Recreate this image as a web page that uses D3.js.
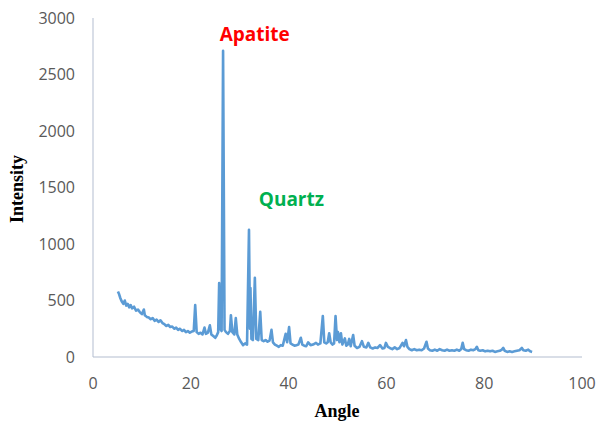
<!DOCTYPE html>
<html>
<head>
<meta charset="utf-8">
<script src="https://cdn.jsdelivr.net/npm/d3@7"></script>
<style>
  body { margin: 0; background: #fff; }
</style>
</head>
<body>
<script>
// XRD scan: angle (2-theta) and intensity
var angle = [5.1,5.3,5.6,5.9,6.2,6.5,6.8,7.1,7.4,7.7,8.0,8.4,8.8,9.2,9.6,10.0,10.4,10.6,11.0,11.4,
  11.8,12.2,12.6,13.0,13.4,13.8,14.2,14.6,15.0,15.4,15.8,16.2,16.6,17.0,17.4,17.8,18.2,18.6,19.0,19.4,
  19.8,20.2,20.6,20.9,21.2,21.6,22.0,22.4,22.8,23.1,23.5,23.9,24.2,24.6,25.0,25.3,25.6,25.8,26.0,26.3,
  26.6,26.9,27.2,27.6,28.0,28.2,28.5,28.9,29.2,29.5,29.9,30.3,30.7,31.1,31.5,31.9,32.1,32.2,32.4,32.7,
  33.1,33.4,33.8,34.2,34.5,34.9,35.3,35.7,36.1,36.5,36.8,37.2,37.6,38.0,38.4,38.8,39.4,39.7,40.1,40.4,
  40.8,41.2,41.6,42.0,42.5,42.8,43.2,43.6,44.0,44.5,45.0,45.6,46.0,46.5,47.0,47.3,47.7,48.0,48.3,48.6,
  49.0,49.3,49.6,49.9,50.1,50.4,50.7,51.0,51.5,51.8,52.1,52.4,52.7,53.2,53.5,54.0,54.5,55.0,55.4,55.9,
  56.3,56.7,57.2,57.7,58.2,58.7,59.2,59.6,59.9,60.3,60.7,61.2,61.7,62.2,62.7,63.3,63.6,64.0,64.3,64.7,
  65.2,65.7,66.2,66.7,67.2,67.7,68.2,68.5,68.9,69.4,69.9,70.4,70.9,71.4,71.9,72.4,72.9,73.4,73.9,74.4,
  74.9,75.3,75.6,75.9,76.3,76.8,77.3,77.8,78.2,78.5,78.8,79.2,79.7,80.2,80.7,81.2,81.7,82.2,82.7,83.2,
  83.6,83.9,84.2,84.7,85.2,85.7,86.2,86.7,87.2,87.7,88.0,88.5,89.0,89.4,89.8];
var intensity = [580,560,520,490,470,500,455,470,440,460,430,445,410,420,395,380,420,370,355,350,
  335,345,320,330,310,325,300,290,275,285,265,270,250,260,240,250,230,240,220,230,
  215,225,230,460,220,205,215,200,260,205,215,280,200,185,170,190,220,655,250,230,
  2710,240,220,205,230,370,220,200,345,200,160,130,105,120,110,1125,250,610,160,150,
  700,160,150,400,150,140,150,135,145,240,130,110,100,90,105,100,205,130,265,120,
  110,100,105,110,170,110,100,95,130,105,110,125,110,120,363,130,120,130,210,130,
  110,120,363,150,220,130,210,110,165,100,110,160,95,195,100,80,90,140,90,85,
  125,85,75,85,80,105,75,80,125,90,80,70,85,70,80,125,95,150,90,70,
  60,70,60,65,60,75,135,75,60,55,65,55,70,60,55,65,55,60,55,65,
  55,70,125,70,60,55,65,60,70,90,60,55,60,50,55,50,55,45,50,55,
  65,80,55,45,50,45,50,55,60,80,60,55,65,50,45];

var xTicks = [0, 20, 40, 60, 80, 100];
var yTicks = [0, 500, 1000, 1500, 2000, 2500, 3000];
var notes = [
  {text: "Apatite", x: 25.9, y: 2800, color: "#ff0000"},
  {text: "Quartz", x: 33.9, y: 1340, color: "#00b050"}
];

var W = 598, H = 423;
var svg = d3.select("body").append("svg").attr("width", W).attr("height", H);

var x = d3.scaleLinear().domain([0, 100]).range([93, 582]);
var y = d3.scaleLinear().domain([0, 3000]).range([357, 18]);
var axisColor = "#b3bdd0";
var tickColor = "#595959";

// axis lines
svg.append("line").attr("x1", x(0)).attr("x2", x(0)).attr("y1", y(3000)).attr("y2", y(0))
  .attr("stroke", axisColor).attr("stroke-width", 1);
svg.append("line").attr("x1", x(0)).attr("x2", x(100)).attr("y1", y(0)).attr("y2", y(0))
  .attr("stroke", axisColor).attr("stroke-width", 1.2);

// tick labels
svg.selectAll(".ytl").data(yTicks).enter().append("text")
  .attr("x", 75).attr("y", function (d) { return y(d); })
  .attr("dy", "0.36em").attr("text-anchor", "end")
  .style("font-family", "Open Sans").style("font-size", "16px").style("fill", tickColor)
  .text(function (d) { return d; });

svg.selectAll(".xtl").data(xTicks).enter().append("text")
  .attr("x", function (d) { return x(d); }).attr("y", 389)
  .attr("text-anchor", "middle")
  .style("font-family", "Open Sans").style("font-size", "16px").style("fill", tickColor)
  .text(function (d) { return d; });

// data line
var pts = angle.map(function (a, i) { return [a, intensity[i]]; });
var line = d3.line().x(function (d) { return x(d[0]); }).y(function (d) { return y(d[1]); });
svg.append("path").datum(pts).attr("d", line)
  .attr("fill", "none").attr("stroke", "#5b9bd5").attr("stroke-width", 2.6)
  .attr("stroke-linejoin", "round");

// phase labels
svg.selectAll(".note").data(notes).enter().append("text")
  .attr("x", function (d) { return x(d.x); }).attr("y", function (d) { return y(d.y); })
  .style("font-family", "Open Sans").style("font-weight", "bold").style("font-size", "19px")
  .style("fill", function (d) { return d.color; })
  .text(function (d) { return d.text; });

// axis titles
svg.append("text").attr("x", 337).attr("y", 417).attr("text-anchor", "middle")
  .style("font-family", "Liberation Serif").style("font-weight", "bold").style("font-size", "18px")
  .text("Angle");
svg.append("text").attr("transform", "translate(23,189) rotate(-90)").attr("text-anchor", "middle")
  .style("font-family", "Liberation Serif").style("font-weight", "bold").style("font-size", "18px")
  .text("Intensity");
</script>
</body>
</html>
